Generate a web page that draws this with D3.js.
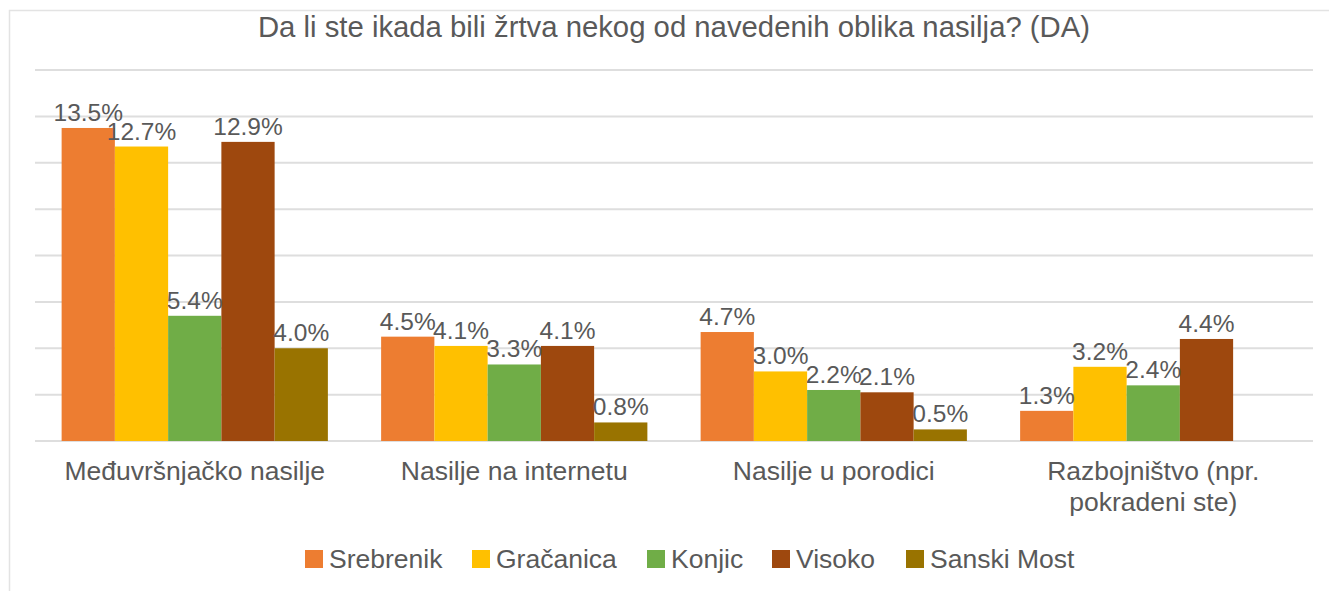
<!DOCTYPE html>
<html>
<head>
<meta charset="utf-8">
<script src="https://cdn.jsdelivr.net/npm/d3@7/dist/d3.min.js"></script>
<style>
  html, body { margin: 0; padding: 0; background: #fff; }
  svg { display: block; font-family: "Liberation Sans", Arial, sans-serif; }
</style>
</head>
<body>
<svg id="chart" width="1329" height="591"></svg>
<script>
// Categories (x axis), with manual line breaks for long labels
const categories = [
  ["Međuvršnjačko nasilje"],
  ["Nasilje na internetu"],
  ["Nasilje u porodici"],
  ["Razbojništvo (npr.", "pokradeni ste)"]
];
const seriesNames = ["Srebrenik", "Gračanica", "Konjic", "Visoko", "Sanski Most"];
const seriesColors = ["#ED7D31", "#FFC000", "#70AD47", "#9E480E", "#997300"];

// Percent values per series, one per category (null = no answer)
const srebrenik  = [13.5, 4.5, 4.7, 1.3];
const gracanica  = [12.7, 4.1, 3.0, 3.2];
const konjic     = [5.4, 3.3, 2.2, 2.4];
const visoko     = [12.9, 4.1, 2.1, 4.4];
const sanskiMost = [4.0, 0.8, 0.5, null];
const seriesValues = [srebrenik, gracanica, konjic, visoko, sanskiMost];

const yTicks = [0, 2, 4, 6, 8, 10, 12, 14, 16];
const title = "Da li ste ikada bili žrtva nekog od navedenih oblika nasilja? (DA)";

const svg = d3.select("#chart");
const textColor = "#595959";

// Chart frame
svg.append("rect")
  .attr("x", 9.5).attr("y", 10.5)
  .attr("width", 1340).attr("height", 600)
  .attr("fill", "#fff").attr("stroke", "#e3e3e3").attr("stroke-width", 1.5);

const plot = { left: 35, right: 1313, top: 70, bottom: 441 };

const x0 = d3.scaleBand()
  .domain(d3.range(categories.length))
  .range([plot.left, plot.right])
  .paddingInner(1 / 6)
  .paddingOuter(1 / 12);

const x1 = d3.scaleBand()
  .domain(d3.range(seriesNames.length))
  .range([0, x0.bandwidth()]);

const y = d3.scaleLinear().domain([0, 16]).range([plot.bottom, plot.top]);

// Gridlines
svg.append("g")
  .selectAll("line")
  .data(yTicks)
  .join("line")
  .attr("x1", plot.left).attr("x2", plot.right)
  .attr("y1", d => y(d)).attr("y2", d => y(d))
  .attr("stroke", "#dedede").attr("stroke-width", 2);

// Title
svg.append("text")
  .attr("x", 674).attr("y", 37)
  .attr("text-anchor", "middle")
  .attr("font-size", 29.3)
  .attr("fill", textColor)
  .text(title);

// Flattened bar records, skipping missing values
const flat = [];
seriesValues.forEach((vals, s) => vals.forEach((v, c) => {
  if (v != null) flat.push({ s, c, v });
}));

// Bars
svg.append("g")
  .selectAll("rect")
  .data(flat)
  .join("rect")
  .attr("x", d => x0(d.c) + x1(d.s))
  .attr("y", d => y(d.v))
  .attr("width", x1.bandwidth())
  .attr("height", d => y(0) - y(d.v))
  .attr("fill", d => seriesColors[d.s]);

// Data labels
svg.append("g")
  .selectAll("text")
  .data(flat)
  .join("text")
  .attr("x", d => x0(d.c) + x1(d.s) + x1.bandwidth() / 2)
  .attr("y", d => y(d.v) - 7)
  .attr("text-anchor", "middle")
  .attr("font-size", 24.5)
  .attr("fill", textColor)
  .text(d => d.v.toFixed(1) + "%");

// Category labels
const catG = svg.append("g")
  .selectAll("text")
  .data(categories)
  .join("text")
  .attr("text-anchor", "middle")
  .attr("font-size", 26.5)
  .attr("fill", textColor)
  .attr("transform", (d, i) => `translate(${x0(i) + x0.bandwidth() / 2},480)`);
catG.selectAll("tspan")
  .data(d => d)
  .join("tspan")
  .attr("x", 0)
  .attr("dy", (d, i) => i === 0 ? 0 : 31)
  .text(d => d);

// Legend
const legendX = [305, 472, 647, 772, 906];
const legend = svg.append("g")
  .selectAll("g")
  .data(seriesNames)
  .join("g")
  .attr("transform", (d, i) => `translate(${legendX[i]},550)`);
legend.append("rect")
  .attr("width", 18).attr("height", 18)
  .attr("fill", (d, i) => seriesColors[i]);
legend.append("text")
  .attr("x", 24).attr("y", 18)
  .attr("font-size", 26.5)
  .attr("fill", textColor)
  .text(d => d);
</script>
</body>
</html>
